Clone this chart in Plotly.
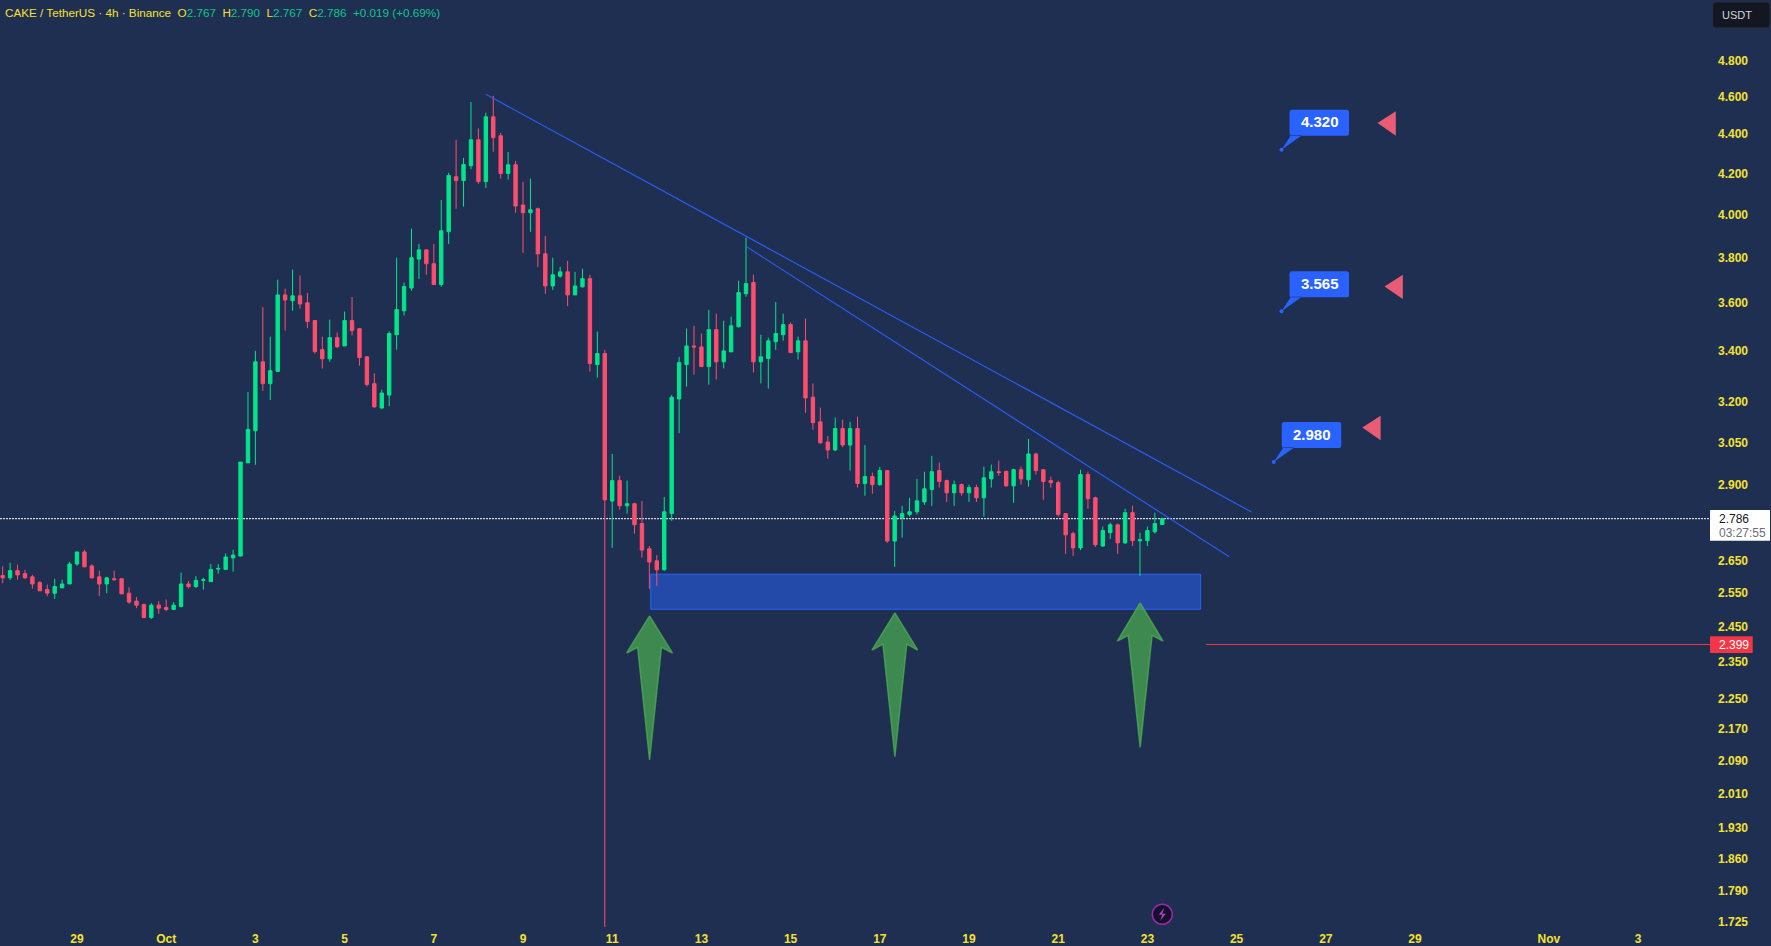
import math
import pandas
import plotly.graph_objects as go

bg = "#1F2F52"
up = "#00E68A"
down = "#FF4D6D"
yellow = "#F5E22F"
blue = "#2962FF"
red = "#F23645"

first_candle = "2025-09-27 08:00"

opens = [2.604,2.597,2.619,2.610,2.600,2.582,2.561,2.550,2.566,2.578,
    2.640,2.678,2.634,2.600,2.578,2.594,2.594,2.550,2.526,2.516,
    2.477,2.514,2.507,2.501,2.510,2.578,2.570,2.589,2.585,2.624,
    2.623,2.659,2.665,2.977,3.093,3.357,3.271,3.319,3.635,3.610,
    3.631,3.601,3.526,3.406,3.369,3.455,3.421,3.526,3.492,3.377,
    3.271,3.178,3.227,3.467,3.567,3.665,3.793,3.835,3.772,3.680,
    3.919,4.183,4.164,4.238,4.371,4.159,4.492,4.392,4.199,4.243,
    4.045,4.008,4.027,3.817,3.674,3.717,3.736,3.635,3.670,3.706,
    3.346,3.390,2.845,2.915,2.829,2.836,2.770,2.688,2.650,2.622,
    2.803,3.212,3.346,3.421,3.417,3.338,3.488,3.357,3.397,3.500,
    3.640,3.689,3.357,3.370,3.438,3.467,3.509,3.397,3.442,3.219,
    3.126,3.052,3.023,3.101,3.041,3.101,2.905,2.929,2.901,2.950,
    2.713,2.790,2.800,2.809,2.842,2.884,2.950,2.915,2.873,2.901,
    2.873,2.891,2.856,2.921,2.946,2.947,2.897,2.953,2.918,3.009,
    2.953,2.915,2.908,2.803,2.737,2.691,2.936,2.856,2.697,2.740,
    2.766,2.707,2.806,2.714,2.714,2.743,2.767]
highs = [2.633,2.644,2.638,2.621,2.606,2.587,2.576,2.594,2.591,2.647,
    2.678,2.685,2.639,2.619,2.600,2.619,2.594,2.568,2.538,2.518,
    2.520,2.526,2.531,2.523,2.613,2.587,2.602,2.597,2.640,2.640,
    2.673,2.685,2.980,3.239,3.401,3.583,3.459,3.701,3.662,3.746,
    3.720,3.644,3.528,3.459,3.530,3.476,3.564,3.626,3.495,3.380,
    3.311,3.248,3.481,3.799,3.689,3.933,3.862,3.835,3.862,4.069,
    4.203,4.371,4.278,4.572,4.431,4.514,4.605,4.407,4.308,4.263,
    4.158,4.174,4.032,3.899,3.799,3.758,3.785,3.736,3.750,3.723,
    3.480,3.405,3.009,2.932,2.915,2.839,2.845,2.697,2.668,2.859,
    3.227,3.377,3.493,3.504,3.472,3.571,3.555,3.525,3.542,3.697,
    3.891,3.723,3.467,3.455,3.604,3.555,3.518,3.459,3.534,3.272,
    3.179,3.074,3.142,3.134,3.126,3.145,3.041,2.943,2.963,2.950,
    2.812,2.829,2.856,2.921,2.946,3.002,2.978,2.918,2.915,2.905,
    2.901,2.901,2.964,2.971,2.985,2.950,2.957,2.964,3.063,3.013,
    2.953,2.929,2.915,2.803,2.743,2.953,2.946,2.860,2.760,2.773,
    2.770,2.819,2.829,2.740,2.760,2.806,2.790]
lows = [2.580,2.590,2.591,2.594,2.564,2.557,2.541,2.533,2.566,2.578,
    2.634,2.631,2.595,2.541,2.550,2.591,2.548,2.518,2.505,2.477,
    2.473,2.488,2.496,2.501,2.507,2.564,2.566,2.561,2.585,2.610,
    2.623,2.616,2.665,2.977,2.970,3.243,3.208,3.319,3.484,3.567,
    3.576,3.494,3.390,3.330,3.357,3.412,3.421,3.464,3.342,3.260,
    3.179,3.173,3.185,3.406,3.547,3.653,3.705,3.723,3.680,3.671,
    3.862,4.027,4.037,4.221,4.148,4.128,4.309,4.174,4.169,4.008,
    3.821,3.918,3.758,3.640,3.657,3.710,3.587,3.635,3.667,3.318,
    3.295,1.715,2.691,2.816,2.803,2.737,2.660,2.563,2.572,2.619,
    2.779,3.084,3.259,3.306,3.338,3.267,3.287,3.331,3.397,3.497,
    3.627,3.315,3.272,3.252,3.405,3.442,3.394,3.366,3.160,3.097,
    3.046,2.992,3.019,3.033,2.950,2.891,2.863,2.870,2.897,2.707,
    2.631,2.724,2.793,2.800,2.832,2.829,2.891,2.842,2.829,2.863,
    2.842,2.842,2.793,2.891,2.932,2.894,2.839,2.901,2.894,2.936,
    2.849,2.891,2.793,2.672,2.665,2.684,2.819,2.694,2.694,2.720,
    2.672,2.704,2.697,2.603,2.697,2.737,2.767]
closes = [2.597,2.619,2.606,2.597,2.578,2.557,2.550,2.570,2.578,2.640,
    2.678,2.631,2.597,2.578,2.597,2.591,2.548,2.523,2.514,2.477,
    2.514,2.505,2.501,2.514,2.578,2.570,2.589,2.591,2.623,2.626,
    2.662,2.668,2.980,3.098,3.357,3.271,3.322,3.635,3.613,3.631,
    3.596,3.522,3.398,3.369,3.455,3.418,3.526,3.484,3.374,3.268,
    3.182,3.235,3.472,3.572,3.671,3.799,3.835,3.772,3.680,3.923,
    4.189,4.164,4.244,4.371,4.159,4.492,4.382,4.199,4.243,4.040,
    4.008,4.022,3.817,3.674,3.723,3.736,3.635,3.674,3.706,3.350,
    3.390,2.849,2.915,2.829,2.836,2.766,2.684,2.646,2.622,2.809,
    3.219,3.354,3.421,3.417,3.338,3.488,3.357,3.401,3.504,3.645,
    3.684,3.357,3.377,3.442,3.472,3.509,3.394,3.442,3.216,3.123,
    3.049,3.023,3.101,3.041,3.101,2.905,2.929,2.901,2.950,2.713,
    2.795,2.803,2.809,2.846,2.887,2.946,2.912,2.873,2.901,2.873,
    2.891,2.856,2.925,2.946,2.943,2.897,2.953,2.921,3.009,2.950,
    2.912,2.908,2.800,2.733,2.691,2.936,2.853,2.701,2.747,2.766,
    2.707,2.806,2.714,2.717,2.747,2.770,2.786]

price_ticks = [4.8,4.6,4.4,4.2,4.0,3.8,3.6,3.4,3.2,3.05,2.9,2.65,2.55,2.45,2.35,2.25,2.17,2.09,2.01,1.93,1.86,1.79,1.725]
date_ticks = ["2025-09-29","2025-10-01","2025-10-03","2025-10-05","2025-10-07","2025-10-09","2025-10-11","2025-10-13","2025-10-15","2025-10-17","2025-10-19","2025-10-21","2025-10-23","2025-10-25","2025-10-27","2025-10-29","2025-11-01","2025-11-03"]
date_labels = ["29","Oct","3","5","7","9","11","13","15","17","19","21","23","25","27","29","Nov","3"]

last_price = 2.786
countdown = "03:27:55"
stop_price = 2.399
stop_start = "2025-10-24 07:30"

trend_a_dates = ["2025-10-08 04:00","2025-10-25 08:04"]
trend_a_prices = [4.614,2.808]
trend_b_dates = ["2025-10-14 00:20","2025-10-24 20:00"]
trend_b_prices = [3.849,2.663]

zone_dates = ["2025-10-11 20:43","2025-10-24 04:38"]
zone_prices = [2.5016,2.608]

target_prices = [4.320,3.565,2.980]
target_dates = ["2025-10-26 00:10","2025-10-26 00:10","2025-10-25 20:00"]
flag_prices = [4.459,3.672,3.105]
flag_dates = ["2025-10-28 03:50","2025-10-28 07:35","2025-10-27 19:38"]

arrow_centres = ["2025-10-11 20:06","2025-10-17 08:06","2025-10-22 20:06"]
arrow_tips = [2.482,2.491,2.521]
arrow_wings = [2.375,2.383,2.409]
arrow_notches = [2.391,2.400,2.425]
arrow_tails = [2.0914,2.0995,2.1231]

x_range = ["2025-09-27 06:34","2025-11-04 14:44"]
y_range = [0.23266,0.71274]


def arrowTrace(centre, tip, wing, notch, tail):
    c = pandas.Timestamp(centre)
    xs = [c, c + pandas.Timedelta(hours=12.3), c + pandas.Timedelta(hours=6.4), c, c - pandas.Timedelta(hours=6.4), c - pandas.Timedelta(hours=12.3), c]
    ys = [tip, wing, notch, tail, notch, wing, tip]
    return go.Scatter(x=xs, y=ys, mode="lines", fill="toself", fillcolor="rgba(76,175,80,0.7)",
                      line=dict(color="rgba(76,175,80,0.75)", width=1.5), hoverinfo="skip", showlegend=False)


def roundedBox(x0, y0, x1, y1, r):
    return (f"M {x0+r},{y0} L {x1-r},{y0} Q {x1},{y0} {x1},{y0-r} L {x1},{y1+r} Q {x1},{y1} {x1-r},{y1} "
            f"L {x0+r},{y1} Q {x0},{y1} {x0},{y1+r} L {x0},{y0-r} Q {x0},{y0} {x0+r},{y0} Z")


def paperY(price):
    return (math.log10(price) - y_range[0]) / (y_range[1] - y_range[0])


dates = pandas.date_range(first_candle, periods=len(opens), freq="4h")

fig = go.Figure()
fig.add_trace(go.Candlestick(x=dates, open=opens, high=highs, low=lows, close=closes, whiskerwidth=0,
                             increasing=dict(line=dict(color=up, width=1), fillcolor=up),
                             decreasing=dict(line=dict(color=down, width=1), fillcolor=down),
                             hoverinfo="skip", showlegend=False))

for i in range(len(arrow_centres)):
    fig.add_trace(arrowTrace(arrow_centres[i], arrow_tips[i], arrow_wings[i], arrow_notches[i], arrow_tails[i]))

fig.add_trace(go.Scatter(x=trend_a_dates, y=trend_a_prices, mode="lines", line=dict(color=blue, width=1.2), opacity=0.9, hoverinfo="skip", showlegend=False))
fig.add_trace(go.Scatter(x=trend_b_dates, y=trend_b_prices, mode="lines", line=dict(color=blue, width=1.2), opacity=0.9, hoverinfo="skip", showlegend=False))
fig.add_trace(go.Scatter(x=[stop_start, x_range[1]], y=[stop_price, stop_price], mode="lines", line=dict(color=red, width=1), hoverinfo="skip", showlegend=False))
fig.add_trace(go.Scatter(x=target_dates, y=target_prices, mode="markers", marker=dict(color=blue, size=4), hoverinfo="skip", showlegend=False))

shapes = []
# dotted last price line and the support zone sit under the candles
shapes.append(dict(type="line", xref="paper", yref="y", x0=0, x1=1, y0=last_price, y1=last_price, layer="below",
                   line=dict(color="#FFFFFF", width=1, dash="2px,1px")))
shapes.append(dict(type="rect", xref="x", yref="y", x0=zone_dates[0], x1=zone_dates[1], y0=zone_prices[0], y1=zone_prices[1], layer="below",
                   fillcolor="#234AA8", line=dict(color=blue, width=1)))

for i in range(len(target_prices)):
    shapes.append(dict(type="path", xref="x", yref="y", xsizemode="pixel", ysizemode="pixel",
                       xanchor=target_dates[i], yanchor=target_prices[i],
                       path=roundedBox(8, 40, 67.5, 14, 2.5) + " M 0,0 L 9.5,14.5 L 20.5,14.5 Z",
                       fillcolor=blue, line=dict(color=blue, width=0)))
    shapes.append(dict(type="path", xref="x", yref="y", xsizemode="pixel", ysizemode="pixel",
                       xanchor=flag_dates[i], yanchor=flag_prices[i],
                       path="M 0,0 L 18.3,11.7 L 18.3,-12.7 Z", fillcolor="#E85D75", line=dict(width=0)))

# price scale tags
shapes.append(dict(type="rect", xref="paper", yref="paper", xsizemode="pixel", ysizemode="pixel", xanchor=1, yanchor=paperY(last_price),
                   x0=0, x1=60, y0=8.6, y1=-22, fillcolor="#FFFFFF", line=dict(width=0)))
shapes.append(dict(type="rect", xref="paper", yref="paper", xsizemode="pixel", ysizemode="pixel", xanchor=1, yanchor=paperY(stop_price),
                   x0=0, x1=42.7, y0=8.3, y1=-8.4, fillcolor=red, line=dict(width=0)))
shapes.append(dict(type="path", xref="paper", yref="paper", xsizemode="pixel", ysizemode="pixel", xanchor=1, yanchor=1,
                   path=roundedBox(2.7, -2, 60, -28, 3), fillcolor="#131722", line=dict(color="#2A2E39", width=1)))
# lightning badge
shapes.append(dict(type="circle", xref="x", yref="paper", xsizemode="pixel", ysizemode="pixel", xanchor=dates[-1], yanchor=0.0169,
                   x0=-10, x1=10, y0=10, y1=-10, fillcolor="#14122B", line=dict(color="#9C27B0", width=1.5)))
shapes.append(dict(type="path", xref="x", yref="paper", xsizemode="pixel", ysizemode="pixel", xanchor=dates[-1], yanchor=0.0169,
                   path="M 2,6.5 L -3.5,-0.5 L 0,-0.5 L -2,-6.5 L 3.5,0.5 L 0,0.5 Z", fillcolor="#B040C8", line=dict(width=0)))

annotations = []
green_txt = "#0CC68A"
sep = "\u00a0\u00a0"
header = ("CAKE / TetherUS · 4h · Binance" + sep
          + f"O<span style='color:{green_txt}'>2.767</span>" + sep
          + f"H<span style='color:{green_txt}'>2.790</span>" + sep
          + f"L<span style='color:{green_txt}'>2.767</span>" + sep
          + f"C<span style='color:{green_txt}'>2.786</span>" + sep
          + f"<span style='color:{green_txt}'>+0.019 (+0.69%)</span>")
annotations.append(dict(text=header, xref="paper", yref="paper", x=0, y=1, xanchor="left", yanchor="top", xshift=3, yshift=-4,
                        showarrow=False, font=dict(family="Liberation Sans", size=11.7, color=yellow)))
annotations.append(dict(text="USDT", xref="paper", yref="paper", x=1, y=1, xanchor="left", yanchor="middle", xshift=10, yshift=-15,
                        showarrow=False, font=dict(family="Liberation Sans", size=11, color="#D1D4DC")))
annotations.append(dict(text=f"{last_price:.3f}", xref="paper", yref="y", x=1, y=math.log10(last_price), xanchor="left", yanchor="middle", xshift=7,
                        showarrow=False, font=dict(family="Liberation Sans", size=12, color="#131722")))
annotations.append(dict(text=countdown, xref="paper", yref="y", x=1, y=math.log10(last_price), xanchor="left", yanchor="middle", xshift=7, yshift=-14,
                        showarrow=False, font=dict(family="Liberation Sans", size=12, color="#6A6D78")))
annotations.append(dict(text=f"{stop_price:.3f}", xref="paper", yref="y", x=1, y=math.log10(stop_price), xanchor="left", yanchor="middle", xshift=7,
                        showarrow=False, font=dict(family="Liberation Sans", size=12, color="#FFFFFF")))
for i in range(len(target_prices)):
    annotations.append(dict(text=f"<b>{target_prices[i]:.3f}</b>", xref="x", yref="y", x=target_dates[i], y=math.log10(target_prices[i]),
                            xanchor="center", yanchor="middle", xshift=38, yshift=28, showarrow=False,
                            font=dict(family="Liberation Sans", size=15, color="#FFFFFF")))

fig.update_layout(width=1771, height=946, margin=dict(l=0, r=61, t=0, b=16), paper_bgcolor=bg, plot_bgcolor=bg,
                  showlegend=False, boxgap=0.35, hovermode=False, shapes=shapes, annotations=annotations)
fig.update_xaxes(type="date", range=x_range, rangeslider=dict(visible=False), showgrid=False, zeroline=False, showline=False,
                 tickmode="array", tickvals=date_ticks, ticktext=date_labels, ticks="",
                 tickfont=dict(family="Liberation Sans", size=12, color=yellow, weight="bold"))
fig.update_yaxes(type="log", range=y_range, side="right", showgrid=False, zeroline=False, showline=False,
                 tickmode="array", tickvals=price_ticks, ticktext=[f"{p:.3f}" for p in price_ticks], ticks="", ticklabelstandoff=7,
                 tickfont=dict(family="Liberation Sans", size=12, color=yellow, weight="bold"))

fig.write_html("out.html", config={"displayModeBar": False},
               post_script="document.body.style.margin='0';document.body.style.overflow='hidden';")
